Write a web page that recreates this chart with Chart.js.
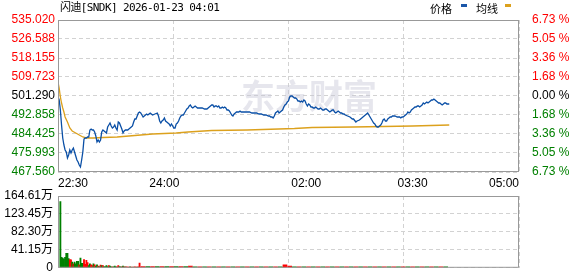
<!DOCTYPE html>
<html>
<head>
<meta charset="utf-8">
<script src="https://cdn.jsdelivr.net/npm/chart.js@4/dist/chart.umd.min.js"></script>
<style>
body { margin: 0; background: #fff; width: 578px; height: 276px; overflow: hidden; position: relative; }
#price { position: absolute; left: 0; top: 0; }
#vol { position: absolute; left: 0; top: 180px; }
.txt { position: absolute; top: 1px; line-height: 14px; color: #000; white-space: nowrap; }
#title { left: 60px; font-size: 11px; letter-spacing: -0.6px; font-family: "DejaVu Sans Mono", "Noto Sans CJK SC", monospace; }
.lg { font-size: 11px; font-family: "Noto Sans CJK SC", sans-serif; }
.mark { position: absolute; top: 4px; width: 6px; height: 3px; }
</style>
</head>
<body>
<canvas id="price" width="578" height="190"></canvas>
<canvas id="vol" width="578" height="100"></canvas>
<div id="title" class="txt">闪迪[SNDK] 2026-01-23 04:01</div>
<div class="txt lg" style="left:430px">价格</div>
<div class="mark" style="left:461px;background:#1a56a8"></div>
<div class="txt lg" style="left:476px">均线</div>
<div class="mark" style="left:505px;background:#dca11d"></div>
<script>
// time axis, minutes after 22:30
const timeLabels = ['22:30', '24:00', '02:00', '03:30', '05:00'];

// price ticks (left) and change ticks (right)
const priceTicks = [467.560, 475.993, 484.425, 492.858, 501.290, 509.723, 518.155, 526.588, 535.020];
const pctTicks = ['6.73', '5.05', '3.36', '1.68', '0.00', '1.68', '3.36', '5.05', '6.73'];
const baseIndex = 4;

// minute price
const priceMinutes = [
    0, 1, 2, 3, 4, 5, 6, 7, 8, 9,
    10, 11, 12, 13, 14, 15, 16, 17, 18, 19,
    20, 21, 22, 23, 24, 25, 26, 27, 28, 29,
    30, 31, 32, 33, 34, 35, 36, 37, 38, 39,
    40, 41, 42, 43, 44, 45, 46, 47, 48, 49,
    50, 51, 52, 53, 54, 55, 56, 57, 58, 59,
    60, 61, 62, 63, 64, 65, 66, 67, 68, 69,
    70, 71, 72, 73, 74, 75, 76, 77, 78,
    80, 82, 84,
    85, 86, 87, 88, 89, 90, 91, 92, 93, 94,
    95, 96, 97, 98, 99, 100, 101, 102, 103, 104,
    105, 106, 107, 108, 109, 110, 111, 112, 113, 114,
    115, 116, 117, 118,
    120, 122, 124, 126,
    128, 129, 130, 131, 132, 133, 134, 135, 136, 137,
    138, 139, 140, 141, 142, 143, 144, 145, 146, 147,
    148, 149, 150, 151, 152, 153, 154, 155, 156,
    158, 160, 162, 164, 166, 168, 170, 172, 174, 176,
    178, 179, 180, 181, 182, 183, 184, 185, 186, 187,
    188, 189, 190, 191, 192, 193, 194, 195, 196, 197,
    198, 199, 200, 201, 202, 203, 204, 205, 206, 207,
    208, 209, 210, 211, 212, 213, 214, 215, 216, 217,
    218, 219, 220, 221, 222, 223, 224, 225, 226, 227,
    228, 229, 230, 231, 232, 233, 234, 235, 236, 237,
    238, 239, 240, 241, 242, 243,
    245, 247, 249, 250, 252, 253, 255, 256, 258, 259,
    261, 262, 263, 264, 265, 266, 267, 268, 269, 270,
    271, 272, 273, 274, 275, 276, 277, 278, 279, 280,
    281, 282, 283,
    285, 287,
    289, 290, 291, 292, 293, 294, 295, 296, 297, 298,
    299, 300, 301, 302, 303, 304, 305, 306, 307, 308,
    309, 310, 311, 312, 313, 314, 315, 316, 317, 318,
    319, 320, 321, 322, 323, 324, 325, 326, 327, 328,
    329, 330, 331
];
const prices = [
    500.85, 499.51, 495.08, 488.42, 482.65, 479.55, 477.33, 476.44, 473.78, 475.11,
    477.33, 476.00, 477.33, 478.21, 476.44, 474.66, 472.89, 472.00, 470.67, 469.78,
    472.89, 476.44, 482.21, 482.65, 482.65, 483.10, 483.10, 486.20, 486.65, 486.20,
    486.20, 485.31, 483.54, 480.88, 481.76, 480.88, 481.76, 485.31, 486.20, 485.76,
    485.31, 484.87, 487.53, 488.42, 489.31, 487.98, 487.09, 487.53, 488.42, 487.09,
    486.20, 489.75, 489.31, 487.98, 486.65, 484.87, 485.76, 486.20, 486.20, 486.20,
    486.65, 487.09, 487.53, 487.98, 489.75, 491.08, 491.08, 492.41, 493.74, 494.19,
    493.74, 492.86, 491.97, 492.41, 492.86, 493.30, 492.86, 493.30, 493.74,
    492.86, 493.30, 493.74,
    492.41, 490.20, 489.31, 490.20, 490.64, 491.53, 490.20, 489.75, 489.31, 488.86,
    487.98, 488.86, 487.98, 487.09, 487.09, 488.86, 489.31, 490.20, 491.53, 492.41,
    492.86, 492.86, 493.74, 494.63, 495.52, 495.96, 496.85, 497.30, 496.41, 495.96,
    496.41, 496.85, 496.41, 495.96,
    495.96, 495.96, 495.52, 495.52,
    496.41, 496.85, 497.30, 497.30, 496.41, 496.85, 496.85, 496.41, 496.85, 495.96,
    495.96, 496.41, 495.96, 496.41, 495.96, 495.08, 495.08, 494.63, 493.74, 492.86,
    492.41, 493.30, 493.74, 494.19, 494.19, 494.19, 494.63, 494.19, 494.19,
    494.19, 494.19, 494.19, 493.74, 493.74, 493.74, 493.30, 493.30, 492.86, 492.86,
    492.41, 492.41, 491.97, 491.97, 491.53, 492.41, 493.74, 494.19, 494.63, 493.74,
    494.19, 494.63, 495.08, 496.41, 497.30, 497.74, 498.63, 499.07, 500.85, 501.29,
    501.29, 500.85, 500.40, 500.40, 499.96, 499.07, 499.07, 498.63, 499.07, 498.63,
    499.51, 499.07, 497.74, 496.85, 497.74, 497.30, 496.41, 496.41, 495.96, 495.96,
    496.41, 495.96, 495.52, 495.52, 495.96, 495.52, 495.08, 495.08, 495.52, 495.52,
    495.08, 494.63, 494.19, 494.63, 495.08, 495.08, 494.19, 493.74, 494.19, 494.63,
    494.19, 493.74, 493.74, 493.30, 493.30, 492.86,
    492.41, 491.97, 491.08, 491.08, 489.75, 490.20, 490.64, 491.08, 491.97, 492.41,
    493.30, 493.74, 492.86, 491.97, 491.08, 490.20, 489.31, 488.86, 487.98, 487.53,
    487.53, 487.98, 488.42, 489.31, 490.64, 491.08, 490.20, 490.20, 491.08, 491.53,
    491.97, 491.97, 492.41,
    492.41, 491.97,
    491.97, 491.53, 491.97, 491.97, 492.41, 492.86, 493.30, 494.19, 493.74, 494.19,
    495.08, 495.52, 495.96, 496.41, 496.41, 496.85, 496.85, 496.41, 496.85, 497.30,
    498.18, 497.74, 498.18, 498.63, 498.18, 498.63, 499.07, 499.51, 499.51, 499.96,
    499.51, 499.07, 498.63, 498.18, 498.18, 497.74, 497.30, 497.74, 498.18, 498.18,
    497.74, 497.74, 497.74
];

// average price line
const avgMinutes = [0, 1, 2, 3, 4, 5, 6, 8, 10, 12, 15, 18, 21, 24, 30, 38, 50, 65, 80, 100, 110, 130, 160, 200, 215, 250, 300, 331];
const avgPrices = [507.50, 504.84, 500.85, 498.18, 495.96, 494.19, 491.97, 489.75, 487.09, 485.76, 484.87, 483.98, 483.10, 482.65, 482.65, 482.87, 483.10, 483.76, 484.43, 484.87, 485.31, 485.98, 486.20, 486.87, 487.31, 487.53, 487.98, 488.42];

// volume (万), one bar per minute from minute 2
const volStart = 2;
const volumes = [
    152, 24, 22, 20, 24, 33, 33, 21, 19, 18,
    13, 9, 13, 9, 15, 15, 7, 22, 10, 10,
    19, 8, 17, 12, 5, 9, 7, 5, 9, 7,
    4, 7, 4, 3, 6, 5, 5, 2, 3, 5,
    3, 5, 4, 2, 2, 2, 4, 2, 2, 5,
    3, 2, 2, 4, 2, 2, 2, 1.5, 1.5, 2,
    1.5, 1.5, 1.5, 2, 1.5, 1.5, 2, 11, 1.5
];
const volSides = 'ggggggggrr' + 'grggggrggg' + 'rrrrggrrgr' + 'ggrgrgrggg' + 'grggrgggrr' + 'ggrgrgrrrg' + 'rrgrrgrrr';
// later volume, one bar every 4 minutes from minute 72
const tailStart = 72, tailStep = 4;
const tailVolumes = [
    3, 3, 3, 3, 3, 3, 3, 3, 3, 3,
    4,
    2, 2, 2, 2, 2, 2, 2, 2, 2, 2, 2, 2, 2, 2, 2, 2, 2, 2, 2,
    7, 4,
    2, 2, 2, 2, 2, 2, 2, 2, 2, 2, 2, 2, 2, 2, 2, 2, 2, 2, 2, 2, 2, 2, 2, 2, 2, 2, 2, 2, 2, 2, 2, 2, 2
];
const tailSides = 'rgrgrgrgrgrgrgrgrgrgrgrgrgrgrg' + 'rr' + 'grgrgrgrgrgrgrgrgrgrgrgrgrgrgrgrg';

const volMax = 164.61;
const volTickLabels = ['0', '41.15万', '82.30万', '123.45万', '164.61万'];

const toMinute = t => {
    const [h, m] = t.split(':').map(Number);
    return (h * 60 + m - 1350 + 1440) % 1440;
};
const timeTicks = timeLabels.map(toMinute);
const sessionEnd = timeTicks[timeTicks.length - 1];
const quarters = [0, 1, 2, 3, 4].map(i => i * sessionEnd / 4);

const UP = '#ff0000', DOWN = '#008000';
const GRID = '#d2d2d2';

Chart.defaults.font.family = '"Liberation Sans", Arial, "Noto Sans CJK SC", sans-serif';
Chart.defaults.font.size = 12;
Chart.defaults.color = '#000';

const frame = {
    id: 'frame',
    afterDatasetsDraw(chart) {
        const { ctx, chartArea: a } = chart;
        ctx.save();
        ctx.strokeStyle = '#999';
        ctx.lineWidth = 1;
        ctx.strokeRect(a.left + 0.5, a.top + 0.5, a.right - a.left - 1, a.bottom - a.top - 1);
        ctx.restore();
    }
};

const watermark = {
    id: 'watermark',
    beforeDatasetsDraw(chart) {
        const ctx = chart.ctx;
        ctx.save();
        ctx.font = 'bold 34px "Noto Sans CJK SC"';
        ctx.fillStyle = 'rgba(200, 200, 214, 0.45)';
        ctx.textBaseline = 'middle';
        ctx.fillText('东方财富', 241, 96);
        ctx.restore();
    }
};

const setTicks = values => scale => { scale.ticks = values.map(v => ({ value: v })); };

new Chart(document.getElementById('price'), {
    type: 'line',
    data: {
        datasets: [{
            label: '价格',
            data: priceMinutes.map((m, i) => ({ x: m, y: prices[i] })),
            borderColor: '#0a4fa6',
            borderWidth: 1.3,
            pointRadius: 0,
            tension: 0
        }, {
            label: '均线',
            data: avgMinutes.map((m, i) => ({ x: m, y: avgPrices[i] })),
            borderColor: '#dca11d',
            borderWidth: 1.3,
            pointRadius: 0,
            tension: 0
        }]
    },
    options: {
        responsive: false,
        animation: false,
        events: [],
        layout: { padding: { top: 20, left: 0, right: 0, bottom: 0 } },
        plugins: { legend: { display: false }, tooltip: { enabled: false } },
        scales: {
            x: {
                type: 'linear', min: 0, max: sessionEnd,
                afterBuildTicks: setTicks(timeTicks),
                afterFit: s => { s.height = 18; },
                grid: { display: false, drawTicks: false },
                border: { display: false },
                ticks: {
                    align: 'inner', autoSkip: false, maxRotation: 0, padding: 4,
                    callback: (v, i) => timeLabels[i]
                }
            },
            xg: {
                type: 'linear', position: 'bottom', min: 0, max: sessionEnd,
                afterBuildTicks: setTicks(quarters),
                afterFit: s => { s.height = 0; },
                ticks: { display: false },
                grid: { color: GRID, drawTicks: false },
                border: { display: false, dash: [4, 3] }
            },
            y: {
                position: 'left', min: priceTicks[0], max: priceTicks[8],
                afterBuildTicks: setTicks(priceTicks),
                afterFit: s => { s.width = 58; },
                grid: { color: GRID, drawTicks: false },
                border: { display: false, dash: [4, 3] },
                ticks: {
                    padding: 3,
                    color: c => c.index > baseIndex ? UP : (c.index < baseIndex ? DOWN : '#000'),
                    callback: (v, i) => priceTicks[i].toFixed(3)
                }
            },
            y2: {
                position: 'right', min: priceTicks[0], max: priceTicks[8],
                afterBuildTicks: setTicks(priceTicks),
                afterFit: s => { s.width = 59; },
                grid: { display: false },
                border: { display: false },
                ticks: {
                    padding: 5,
                    color: c => c.index > baseIndex ? UP : (c.index < baseIndex ? DOWN : '#000'),
                    callback: (v, i) => pctTicks[i] + ' %'
                }
            }
        }
    },
    plugins: [watermark, frame]
});

new Chart(document.getElementById('vol'), {
    type: 'bar',
    data: {
        datasets: [{
            data: volumes.map((v, i) => ({ x: volStart + i, y: v })),
            backgroundColor: volumes.map((v, i) => volSides[i] === 'r' ? UP : DOWN),
            barThickness: 1.2,
            grouped: false
        }, {
            data: tailVolumes.map((v, i) => ({ x: tailStart + i * tailStep, y: v })),
            backgroundColor: tailVolumes.map((v, i) => tailSides[i] === 'r' ? UP : DOWN),
            barThickness: 4,
            grouped: false
        }]
    },
    options: {
        responsive: false,
        animation: false,
        events: [],
        layout: { padding: { top: 16, left: 0, right: 59, bottom: 0 } },
        plugins: { legend: { display: false }, tooltip: { enabled: false } },
        scales: {
            x: {
                type: 'linear', min: 0, max: sessionEnd, offset: false,
                afterBuildTicks: setTicks(quarters),
                afterFit: s => { s.height = 10; },
                ticks: { display: false },
                grid: { color: GRID, drawTicks: false, offset: false },
                border: { display: false, dash: [4, 3] }
            },
            y: {
                min: 0, max: volMax,
                afterBuildTicks: setTicks(volTickLabels.map((t, i) => i * volMax / 4)),
                afterFit: s => { s.width = 58; },
                grid: { color: GRID, drawTicks: false },
                border: { display: false, dash: [4, 3] },
                ticks: { padding: 5, callback: (v, i) => volTickLabels[i] }
            }
        }
    },
    plugins: [frame]
});
</script>
</body>
</html>
